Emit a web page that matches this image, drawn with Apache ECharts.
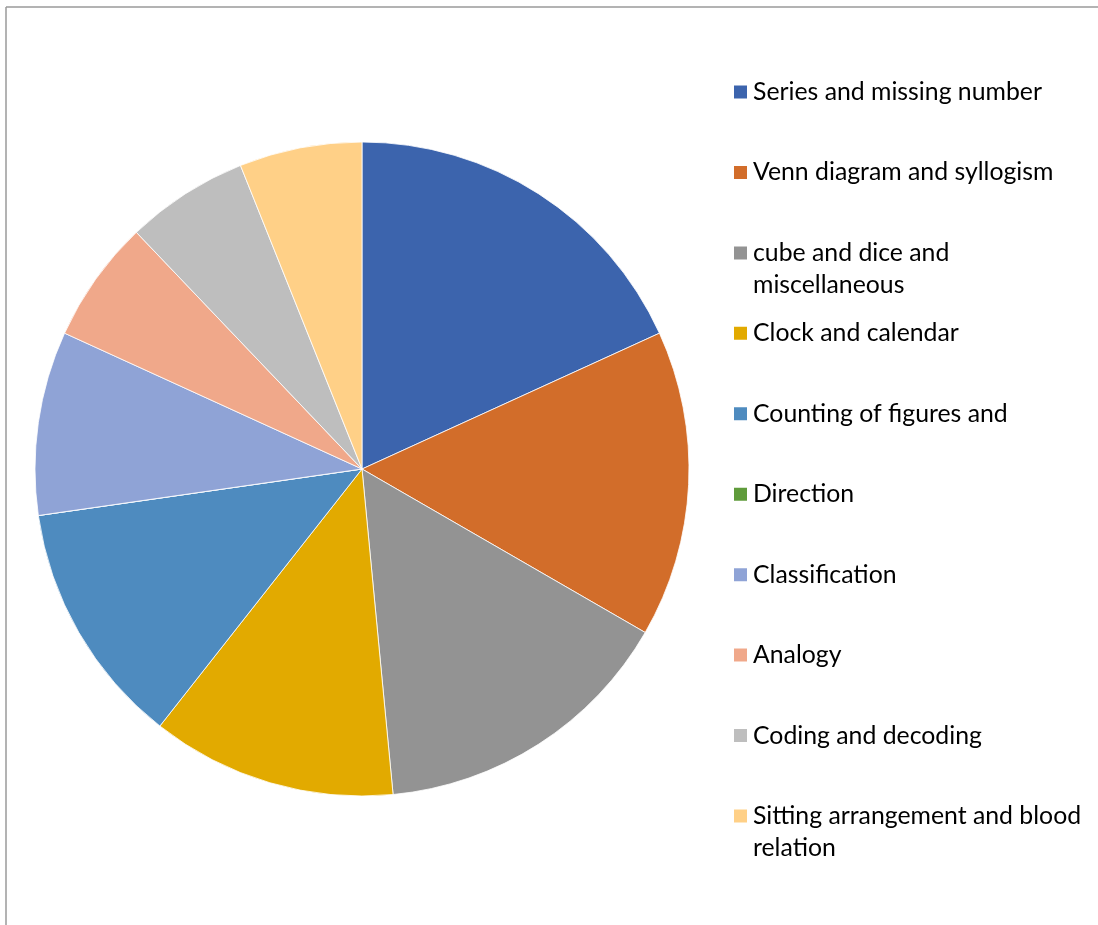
<!DOCTYPE html>
<html>
<head>
<meta charset="utf-8">
<script src="https://cdn.jsdelivr.net/npm/echarts@6/dist/echarts.min.js"></script>
<style>
html,body{margin:0;padding:0;background:#fff;}
#chart{width:1098px;height:925px;}
</style>
</head>
<body>
<div id="chart"></div>
<script>
const categories = [
  'Series and missing number',
  'Venn diagram and syllogism',
  'cube and dice and miscellaneous',
  'Clock and calendar',
  'Counting of figures and',
  'Direction',
  'Classification',
  'Analogy',
  'Coding and decoding',
  'Sitting arrangement and blood relation'
];
const values = [6, 5, 5, 4, 4, 0, 3, 2, 2, 2];
const legendLabels = [
  'Series and missing number',
  'Venn diagram and syllogism',
  'cube and dice and\nmiscellaneous',
  'Clock and calendar',
  'Counting of figures and',
  'Direction',
  'Classification',
  'Analogy',
  'Coding and decoding',
  'Sitting arrangement and blood\nrelation'
];
const colors = ['#3C64AD','#D26D2A','#939393','#E2AA00','#4E8BBF','#5F9B3B','#8FA3D6','#F0A88A','#BEBEBE','#FFD087'];

const chart = echarts.init(document.getElementById('chart'));
const LH = 32;
const legends = categories.map((name, i) => {
  const center = 92 + i * 80.44;
  const twoLine = legendLabels[i].indexOf('\n') >= 0;
  return {
    orient: 'vertical',
    left: 732,
    top: twoLine ? center - 48 : center - 16,
    padding: 0,
    itemWidth: 15,
    itemHeight: 15,
    selectedMode: false,
    icon: 'rect',
    data: [name],
    formatter: () => (twoLine ? '\n' : '') + legendLabels[i],
    textStyle: {
      fontFamily: 'Lato',
      fontSize: 24.8,
      color: '#000',
      lineHeight: LH
    }
  };
});

chart.setOption({
  animation: false,
  color: colors,
  legend: legends,
  graphic: [
    { type: 'line', shape: { x1: 6, y1: 7, x2: 1098, y2: 7 }, style: { stroke: '#9a9a9a', lineWidth: 1.5 } },
    { type: 'line', shape: { x1: 6, y1: 7, x2: 6, y2: 925 }, style: { stroke: '#9a9a9a', lineWidth: 1.5 } }
  ],
  series: [{
    type: 'pie',
    center: [362, 469],
    radius: 327,
    startAngle: 90,
    clockwise: true,
    label: { show: false },
    labelLine: { show: false },
    emphasis: { disabled: true },
    itemStyle: { borderColor: '#ffffff', borderWidth: 0.8 },
    data: categories.map((n, i) => ({ name: n, value: values[i] }))
  }]
});
</script>
</body>
</html>
